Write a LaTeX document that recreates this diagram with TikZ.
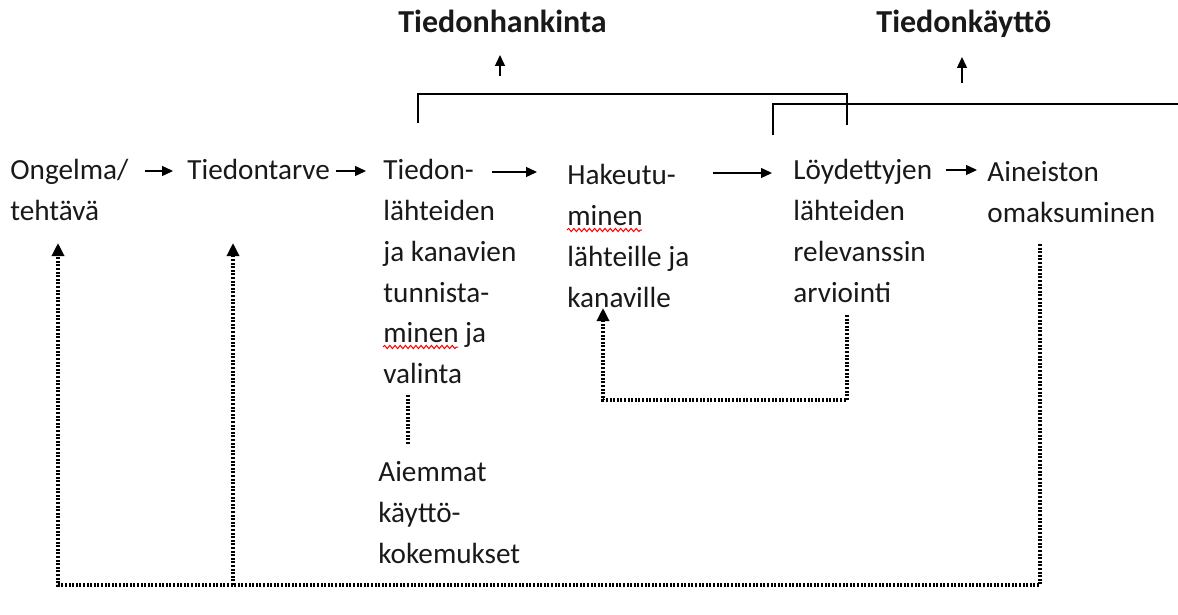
\documentclass[tikz,border=0pt]{standalone}
\usepackage{fontspec}
\setmainfont{Carlito}
\usepackage{tikz}
\usetikzlibrary{arrows.meta,decorations.pathmorphing}
\tikzstyle{txt}=[anchor=north west,inner sep=0pt,align=left,text=black!90,
                 font=\fontsize{14.6}{20.4}\selectfont]
\tikzstyle{head}=[anchor=base west,inner sep=0pt,text=black!90,
                  font=\fontsize{16}{19}\selectfont\bfseries]
\tikzstyle{arr}=[-{Triangle[length=5.5pt,width=5pt]},line width=0.7pt]
\tikzstyle{bracket}=[line width=1pt]
\tikzstyle{fb}=[line width=1.6pt,dash pattern=on 1pt off 0.8pt]
\tikzstyle{fbarr}=[fb,-{Triangle[length=6.5pt,width=6pt]}]
\tikzstyle{spell}=[red,line width=0.5pt,decorate,
                   decoration={snake,amplitude=0.8pt,segment length=2.6pt}]

\begin{document}
\begin{tikzpicture}[x=0.5pt,y=-0.5pt]
    \useasboundingbox (0,0) rectangle (1178,615);
    \node (hankinta) at (398,33) [head]{Tiedonhankinta};
    \node (kaytto) at (876,33) [head]{Tiedonkäyttö};
    \node (ongelma) at (10,159) [txt]{Ongelma/\\tehtävä};
    \node (tarve) at (187,159) [txt]{Tiedontarve};
    \node (tunnistus) at (383,159) [txt]{Tiedon-\\lähteiden\\ja kanavien\\tunnista-\\minen ja\\valinta};
    \node (hakeutuminen) at (567,164) [txt]{Hakeutu-\\minen\\lähteille ja\\kanaville};
    \node (arviointi) at (793,159) [txt]{Löydettyjen\\lähteiden\\relevanssin\\arviointi};
    \node (omaksuminen) at (987,161) [txt]{Aineiston\\omaksuminen};
    \node (aiemmat) at (378,461) [txt]{Aiemmat\\käyttö-\\kokemukset};

    \draw[arr] ([xshift=8pt,yshift=-6pt]ongelma.north east) -- ([xshift=-7pt,yshift=-6pt]tarve.north west);
    \draw[arr] ([xshift=3pt,yshift=-6pt]tarve.north east) -- ([xshift=-8.5pt,yshift=-6pt]tunnistus.north west);
    \draw[arr] ([xshift=54.5pt,yshift=-6.5pt]tunnistus.north west) -- ([xshift=-15pt,yshift=-4pt]hakeutuminen.north west);
    \draw[arr] ([xshift=73pt,yshift=-4.5pt]hakeutuminen.north west) -- ([xshift=-10.5pt,yshift=-7pt]arviointi.north west);
    \draw[arr] ([xshift=6.5pt,yshift=-5.5pt]arviointi.north east) -- ([xshift=-5pt,yshift=-4.5pt]omaksuminen.north west);

    \coordinate (hkfoot) at (500,76);
    \coordinate (kkfoot) at (962,83);
    \draw[arr,shorten >=11pt] (hkfoot) -- (hkfoot |- hankinta.base);
    \draw[arr,shorten >=12pt] (kkfoot) -- (kkfoot |- kaytto.base);

    \coordinate (b1l) at (418,123);
    \coordinate (b1r) at (847,125);
    \coordinate (b2l) at (773,135);
    \coordinate (b2r) at (1178,104);
    \draw[bracket] (b1l) |- (b1r |- 0,94) -- (b1r);
    \draw[bracket] (b2l) |- (b2r);

    \coordinate (bot) at (0,585);
    \coordinate (fbstart) at (1040,244);
    \coordinate (up1) at (58,243);
    \coordinate (up2) at (233,243);
    \draw[fbarr] (fbstart) -- (fbstart |- bot) -| (up1);
    \draw[fbarr] (up2 |- bot) -- (up2);

    \coordinate (loopstart) at (847,315);
    \coordinate (loopend) at (603,308);
    \draw[fbarr] (loopstart) -- (847,400) -| (loopend);

    \coordinate (valtop) at (408,395);
    \draw[fb,shorten >=8pt] (valtop) -- (valtop |- aiemmat.north);

    \draw[spell] ([yshift=-33pt]hakeutuminen.north west) -- ++(75,0);
    \draw[spell] ([yshift=-94pt]tunnistus.north west) -- ++(75,0);
\end{tikzpicture}
\end{document}
